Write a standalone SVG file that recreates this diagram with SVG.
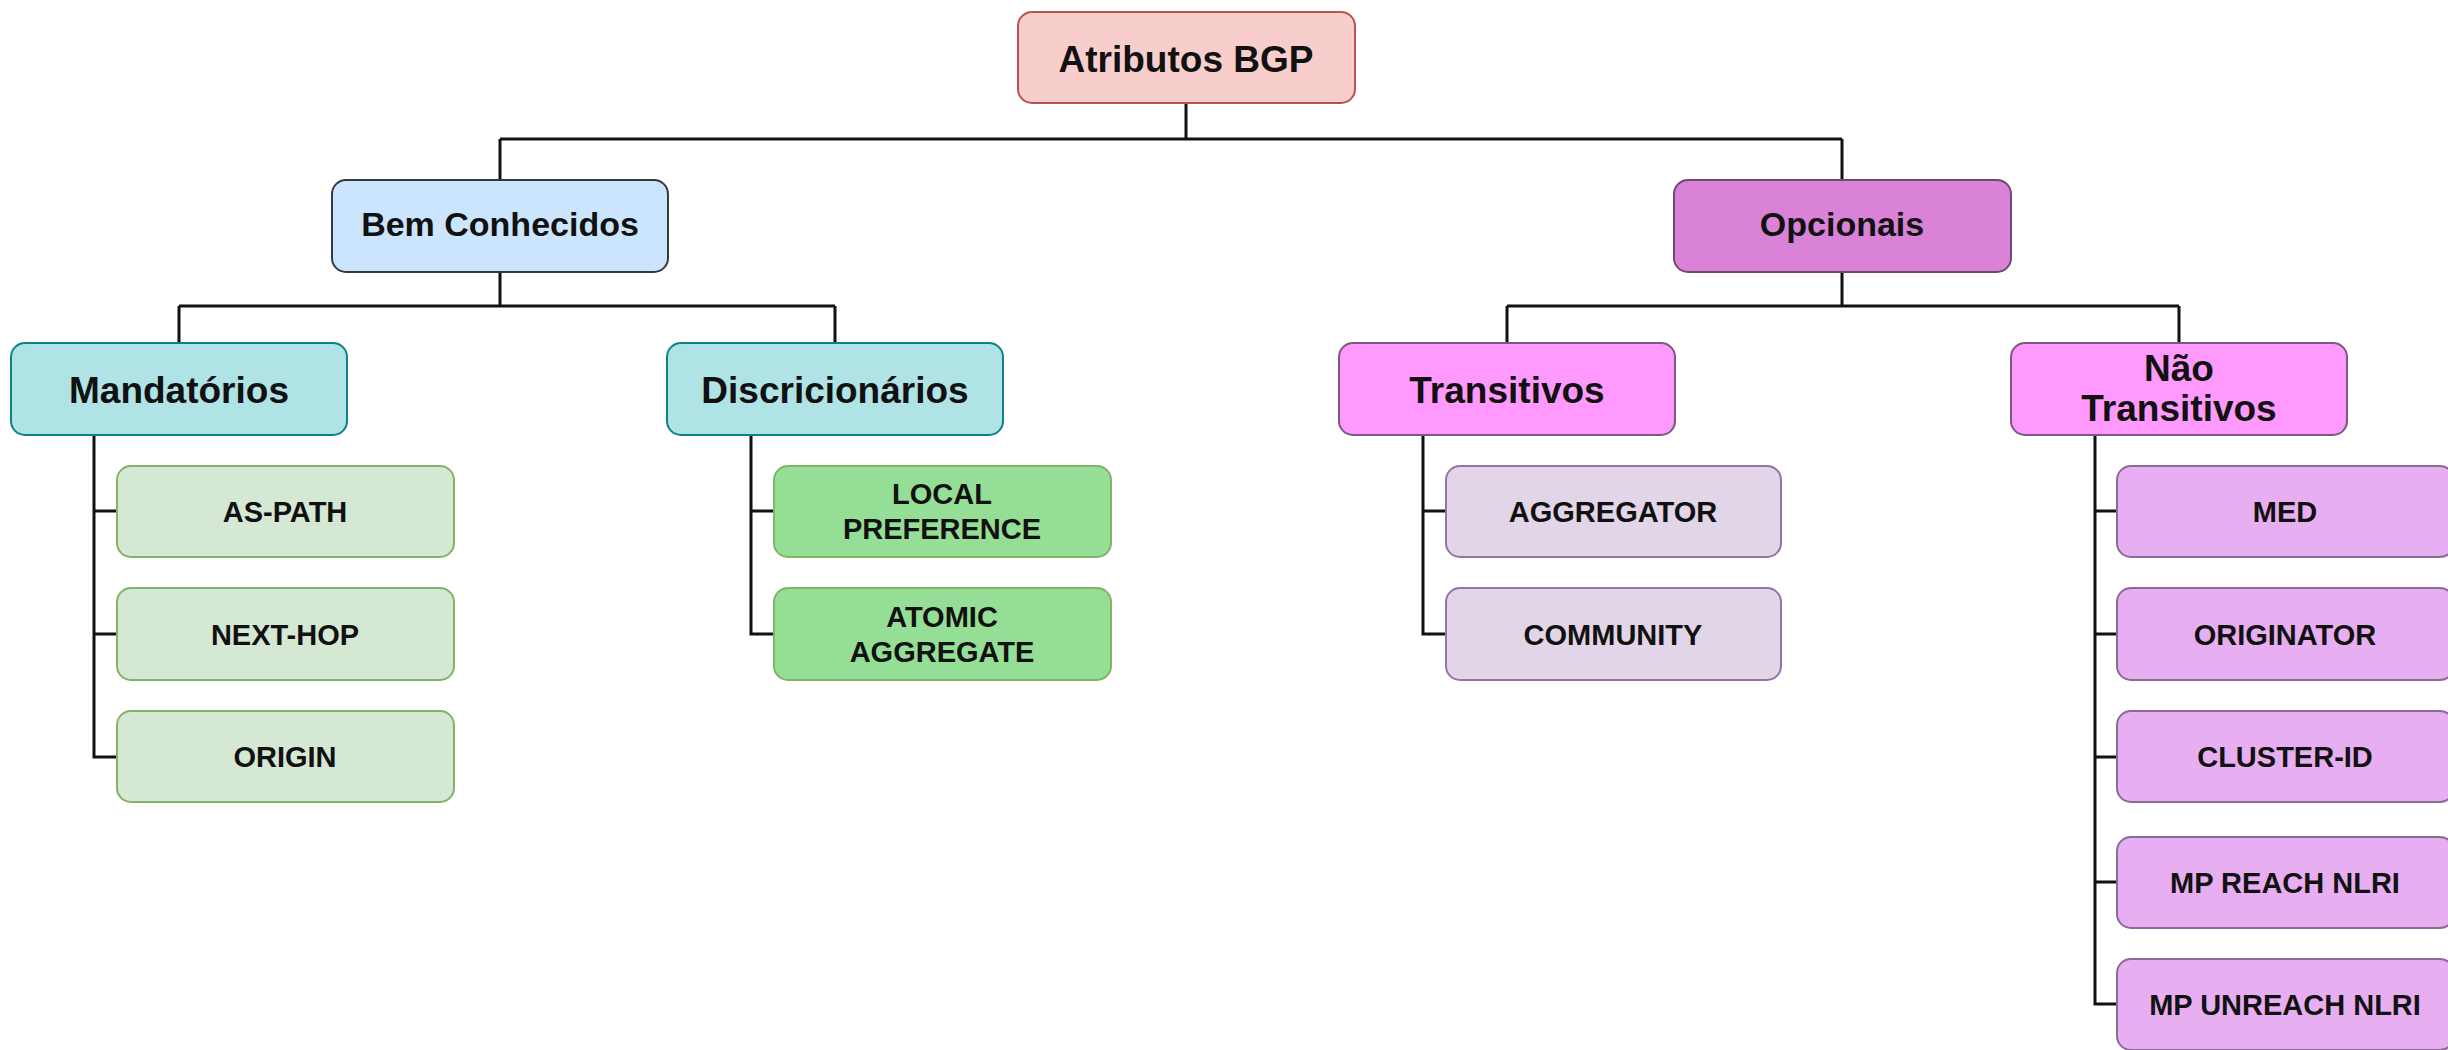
<svg xmlns="http://www.w3.org/2000/svg" width="2448" height="1050" viewBox="0 0 2448 1050">
<style>
  .box { stroke-width: 2; }
  .t { font-family: "Liberation Sans", Arial, sans-serif; font-weight: bold; fill: #111; text-anchor: middle; }
  .h { font-size: 37px; }
  .h2 { font-size: 34px; }
  .l { font-size: 29px; }
  .root { fill: #f8cecc; stroke: #b85450; }
  .blue { fill: #cce5ff; stroke: #36393d; }
  .teal { fill: #b0e3e6; stroke: #0e8088; }
  .opc { fill: #d982d8; stroke: #6e4a70; }
  .pink { fill: #ff99fe; stroke: #7a5a7c; }
  .lg { fill: #d5e8d4; stroke: #82b366; }
  .g { fill: #95de95; stroke: #82b366; }
  .lp { fill: #e1d5e7; stroke: #9673a6; }
  .m { fill: #e8aef2; stroke: #8b6b94; }
  .conn { fill: none; stroke: #111; stroke-width: 3; }
</style>
<rect width="2448" height="1050" fill="#ffffff"/>
<g id="connectors" class="conn">
  <path d="M1186,103 V139 M500,139 H1842 M500,139 V180 M1842,139 V180"/>
  <path d="M500,272 V306 M179,306 H835 M179,306 V343 M835,306 V343"/>
  <path d="M1842,272 V306 M1507,306 H2179 M1507,306 V343 M2179,306 V343"/>
  <path d="M94,435 V757 H117 M94,511 H117 M94,634 H117"/>
  <path d="M751,435 V634 H774 M751,511 H774"/>
  <path d="M1423,435 V634 H1446 M1423,511 H1446"/>
  <path d="M2095,435 V1004 H2117 M2095,511 H2117 M2095,634 H2117 M2095,757 H2117 M2095,882 H2117"/>
</g>
<g id="n-root"><rect class="box root" x="1018" y="12" width="337" height="91" rx="14"/><text class="t h" x="1186" y="72">Atributos BGP</text></g>
<g id="n-bem"><rect class="box blue" x="332" y="180" width="336" height="92" rx="14"/><text class="t h2" x="500" y="236">Bem Conhecidos</text></g>
<g id="n-opc"><rect class="box opc" x="1674" y="180" width="337" height="92" rx="14"/><text class="t h2" x="1842" y="236">Opcionais</text></g>
<g id="n-mand"><rect class="box teal" x="11" y="343" width="336" height="92" rx="14"/><text class="t h" x="179" y="403">Mandatórios</text></g>
<g id="n-disc"><rect class="box teal" x="667" y="343" width="336" height="92" rx="14"/><text class="t h" x="835" y="403">Discricionários</text></g>
<g id="n-trans"><rect class="box pink" x="1339" y="343" width="336" height="92" rx="14"/><text class="t h" x="1507" y="403">Transitivos</text></g>
<g id="n-ntrans"><rect class="box pink" x="2011" y="343" width="336" height="92" rx="14"/><text class="t h" x="2179" y="381">Não</text><text class="t h" x="2179" y="421">Transitivos</text></g>
<g id="n-aspath"><rect class="box lg" x="117" y="466" width="337" height="91" rx="14"/><text class="t l" x="285" y="522">AS-PATH</text></g>
<g id="n-nexthop"><rect class="box lg" x="117" y="588" width="337" height="92" rx="14"/><text class="t l" x="285" y="645">NEXT-HOP</text></g>
<g id="n-origin"><rect class="box lg" x="117" y="711" width="337" height="91" rx="14"/><text class="t l" x="285" y="767">ORIGIN</text></g>
<g id="n-localpref"><rect class="box g" x="774" y="466" width="337" height="91" rx="14"/><text class="t l" x="942" y="504">LOCAL</text><text class="t l" x="942" y="539">PREFERENCE</text></g>
<g id="n-atomic"><rect class="box g" x="774" y="588" width="337" height="92" rx="14"/><text class="t l" x="942" y="627">ATOMIC</text><text class="t l" x="942" y="662">AGGREGATE</text></g>
<g id="n-aggregator"><rect class="box lp" x="1446" y="466" width="335" height="91" rx="14"/><text class="t l" x="1613" y="522">AGGREGATOR</text></g>
<g id="n-community"><rect class="box lp" x="1446" y="588" width="335" height="92" rx="14"/><text class="t l" x="1613" y="645">COMMUNITY</text></g>
<g id="n-med"><rect class="box m" x="2117" y="466" width="337" height="91" rx="14"/><text class="t l" x="2285" y="522">MED</text></g>
<g id="n-originator"><rect class="box m" x="2117" y="588" width="337" height="92" rx="14"/><text class="t l" x="2285" y="645">ORIGINATOR</text></g>
<g id="n-cluster"><rect class="box m" x="2117" y="711" width="337" height="91" rx="14"/><text class="t l" x="2285" y="767">CLUSTER-ID</text></g>
<g id="n-mpreach"><rect class="box m" x="2117" y="837" width="337" height="91" rx="14"/><text class="t l" x="2285" y="893">MP REACH NLRI</text></g>
<g id="n-mpunreach"><rect class="box m" x="2117" y="959" width="337" height="91" rx="14"/><text class="t l" x="2285" y="1015">MP UNREACH NLRI</text></g>
</svg>
